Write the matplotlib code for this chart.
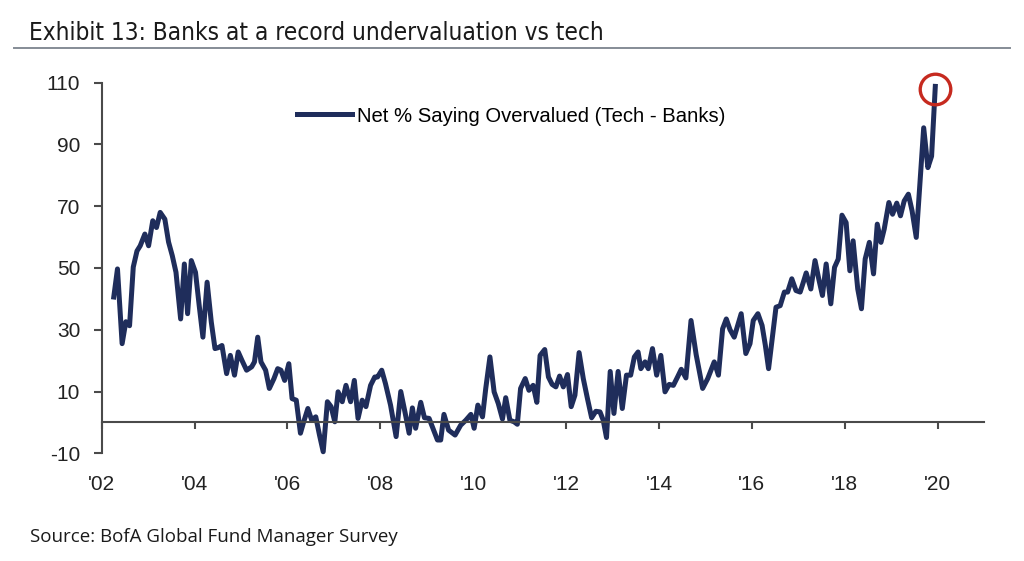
import matplotlib
matplotlib.use("Agg")
import matplotlib.pyplot as plt
from matplotlib.lines import Line2D


TITLE = "Exhibit 13: Banks at a record undervaluation vs tech"
SOURCE = "Source: BofA Global Fund Manager Survey"
SERIES_LABEL = "Net % Saying Overvalued (Tech - Banks)"

# survey dates as decimal years
dates = [
    2002.26, 2002.34, 2002.44, 2002.52, 2002.60, 2002.68, 2002.76, 2002.83, 2002.93, 2003.01,
    2003.10, 2003.18, 2003.26, 2003.36, 2003.44, 2003.52, 2003.60, 2003.70, 2003.78, 2003.85,
    2003.93, 2004.02, 2004.10, 2004.18, 2004.27, 2004.36, 2004.44, 2004.51, 2004.59, 2004.69,
    2004.77, 2004.86, 2004.94, 2005.02, 2005.12, 2005.23, 2005.29, 2005.36, 2005.43, 2005.53,
    2005.61, 2005.71, 2005.79, 2005.86, 2005.94, 2006.03, 2006.10, 2006.19, 2006.28, 2006.35,
    2006.44, 2006.52, 2006.61, 2006.69, 2006.77, 2006.86, 2006.94, 2007.02, 2007.09, 2007.18,
    2007.26, 2007.36, 2007.44, 2007.52, 2007.61, 2007.69, 2007.79, 2007.88, 2007.94, 2008.03,
    2008.11, 2008.22, 2008.34, 2008.44, 2008.53, 2008.62, 2008.69, 2008.76, 2008.87, 2008.95,
    2009.05, 2009.16, 2009.23, 2009.30, 2009.37, 2009.47, 2009.61, 2009.73, 2009.84, 2009.95,
    2010.02, 2010.10, 2010.20, 2010.27, 2010.36, 2010.45, 2010.54, 2010.63, 2010.70, 2010.79,
    2010.88, 2010.95, 2011.02, 2011.12, 2011.20, 2011.29, 2011.37, 2011.44, 2011.54, 2011.62,
    2011.70, 2011.78, 2011.86, 2011.94, 2012.03, 2012.11, 2012.19, 2012.28, 2012.37, 2012.46,
    2012.55, 2012.64, 2012.73, 2012.80, 2012.87, 2012.95, 2013.03, 2013.12, 2013.21, 2013.30,
    2013.39, 2013.47, 2013.55, 2013.61, 2013.70, 2013.77, 2013.86, 2013.95, 2014.04, 2014.13,
    2014.22, 2014.31, 2014.40, 2014.48, 2014.58, 2014.69, 2014.80, 2014.94, 2015.05, 2015.19,
    2015.28, 2015.37, 2015.45, 2015.53, 2015.62, 2015.77, 2015.87, 2015.96, 2016.03, 2016.13,
    2016.22, 2016.29, 2016.36, 2016.52, 2016.61, 2016.70, 2016.77, 2016.86, 2016.95, 2017.04,
    2017.10, 2017.17, 2017.27, 2017.36, 2017.44, 2017.52, 2017.60, 2017.70, 2017.78, 2017.86,
    2017.94, 2018.03, 2018.11, 2018.18, 2018.28, 2018.36, 2018.44, 2018.53, 2018.62, 2018.70,
    2018.78, 2018.85, 2018.95, 2019.03, 2019.12, 2019.20, 2019.28, 2019.37, 2019.45, 2019.54,
    2019.70, 2019.79, 2019.87, 2019.95,
]

net_overvalued = [
    40.6, 49.7, 25.5, 32.6, 31.3, 50.3, 55.5, 57.2, 61.0, 57.2,
    65.3, 63.1, 68.0, 65.8, 58.4, 54.0, 48.6, 33.5, 51.3, 35.2,
    52.4, 48.6, 37.8, 27.6, 45.4, 32.5, 23.9, 24.2, 24.9, 15.8,
    21.7, 15.3, 22.8, 20.1, 16.9, 18.0, 19.6, 27.6, 19.6, 16.9,
    11.0, 14.2, 17.4, 16.9, 13.6, 19.0, 7.7, 7.2, -3.5, 0.2,
    4.5, 0.8, 1.8, -4.1, -9.5, 6.7, 5.1, 0.2, 9.9, 6.7,
    12.0, 6.7, 13.6, 1.3, 7.2, 5.1, 12.0, 14.7, 14.7, 16.9,
    12.6, 5.6, -4.6, 10.0, 3.4, -3.5, 4.7, -1.9, 6.5, 1.5,
    1.3, -3.0, -5.7, -5.7, 2.6, -2.5, -4.1, -0.9, 0.7, 2.6,
    -1.9, 5.6, 1.8, 11.0, 21.2, 9.9, 6.1, 1.1, 8.0, 0.7,
    0.2, -0.6, 11.0, 14.2, 10.4, 12.0, 6.5, 21.7, 23.6, 14.7,
    12.3, 11.5, 15.0, 11.5, 15.5, 5.1, 8.8, 22.6, 14.2, 7.7,
    1.5, 3.6, 3.4, 0.7, -4.9, 16.5, 2.9, 16.5, 4.5, 15.3,
    15.3, 21.2, 22.8, 17.4, 19.6, 17.4, 23.9, 15.3, 21.7, 9.9,
    12.3, 12.0, 14.7, 17.2, 14.4, 33.0, 22.0, 11.0, 14.2, 19.6,
    15.3, 30.3, 33.5, 30.0, 27.6, 35.2, 22.3, 25.5, 33.0, 35.2,
    31.4, 25.0, 17.4, 37.3, 37.8, 42.2, 42.2, 46.5, 42.7, 42.2,
    45.0, 48.4, 43.2, 52.4, 46.5, 41.1, 51.3, 38.4, 50.2, 52.9,
    67.1, 64.7, 49.1, 58.8, 43.2, 36.8, 52.9, 58.3, 48.1, 64.2,
    58.3, 62.6, 71.2, 67.4, 71.0, 66.9, 71.7, 73.9, 68.5, 59.9,
    95.4, 82.5, 86.2, 108.8,
]

tick_years = [2002, 2004, 2006, 2008, 2010, 2012, 2014, 2016, 2018, 2020]
tick_labels = ["'02", "'04", "'06", "'08", "'10", "'12", "'14", "'16", "'18", "'20"]
y_ticks = [-10, 10, 30, 50, 70, 90, 110]

NAVY = "#1f2d5b"
RED = "#c62a1f"
AXIS_GREY = "#4a4a4a"

plt.rcParams["font.family"] = ["Liberation Sans", "DejaVu Sans"]
plt.rcParams["axes.unicode_minus"] = False

fig = plt.figure(figsize=(10.24, 5.61), dpi=100)
ax = fig.add_axes([0.0993, 0.1920, 0.8617, 0.6606])

ax.plot(dates, net_overvalued, color=NAVY, linewidth=3.6, solid_joinstyle="round",
        label=SERIES_LABEL, clip_on=False)

# red ring around the latest reading
ax.plot(dates[-1], net_overvalued[-1] - 1, marker="o", markersize=22, markerfacecolor="none",
        markeredgecolor=RED, markeredgewidth=2.4, linestyle="none", clip_on=False)

ax.set_xlim(2002, 2021)
ax.set_ylim(-10, 110)

ax.spines["top"].set_visible(False)
ax.spines["right"].set_visible(False)
ax.spines["bottom"].set_position(("data", 0))
for side in ("left", "bottom"):
    ax.spines[side].set_color(AXIS_GREY)
    ax.spines[side].set_linewidth(1.5)

ax.set_xticks(tick_years)
ax.set_xticklabels(tick_labels)
ax.set_yticks(y_ticks)

ax.tick_params(axis="x", direction="out", length=5, width=1.5, color=AXIS_GREY,
               labelsize=15, labelcolor="#222222", pad=33)
ax.tick_params(axis="y", direction="out", length=5.5, width=1.5, color=AXIS_GREY,
               labelsize=15, labelcolor="#222222", pad=10)

ax.legend(loc="center left", bbox_to_anchor=(0.2214, 0.910), frameon=False, fontsize=14.6,
          handlelength=2.7, handletextpad=0.25, borderpad=0, borderaxespad=0)

fig.text(0.028, 0.941, TITLE, fontsize=17.5, color="#1a1a1a", va="center", ha="left",
         family=["DejaVu Sans"], stretch="condensed")
fig.add_artist(Line2D([0.014, 0.986], [0.915, 0.915], transform=fig.transFigure,
                      color="#858c96", linewidth=1.4))
fig.text(0.029, 0.043, SOURCE, fontsize=13.5, color="#1a1a1a", va="center", ha="left",
         family=["Open Sans", "DejaVu Sans"])

fig.savefig("out.png", dpi=100)
